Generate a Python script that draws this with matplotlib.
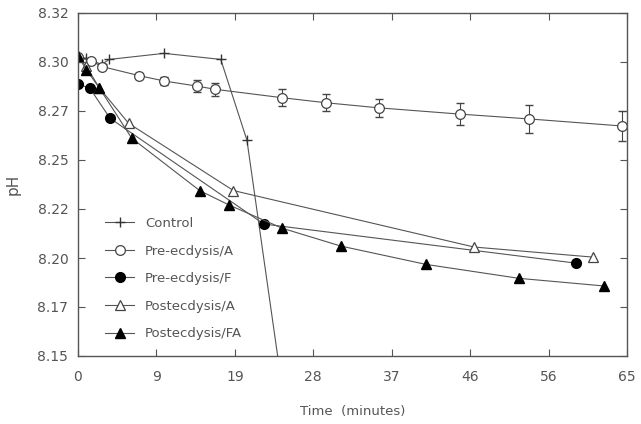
import matplotlib
matplotlib.use("Agg")
import matplotlib.pyplot as plt
import numpy as np

# Data
ctrl_t = [0, 1.0, 2.8, 3.7, 10.2, 16.9, 20.0, 25.0]
ctrl_ph = [8.2985, 8.2975, 8.2945, 8.297, 8.300, 8.297, 8.257, 8.11]

preA_t = [0, 1.5, 2.9, 7.2, 10.2, 14.05, 16.2, 24.2, 29.4, 35.6, 45.2, 53.4, 64.4]
preA_ph = [8.298, 8.2964, 8.2934, 8.289, 8.2863, 8.2838, 8.2822, 8.278, 8.2755, 8.273, 8.2699, 8.2675, 8.264]
preA_err = [0, 0, 0.0012, 0.0015, 0.002, 0.0028, 0.0031, 0.0043, 0.0043, 0.0045, 0.0055, 0.007, 0.0074]

preF_t = [0, 1.4, 3.8, 22.0, 59.0]
preF_ph = [8.2848, 8.2827, 8.2678, 8.2154, 8.196]

postA_t = [0, 1.0, 2.5, 6.0, 18.4, 46.9, 61.0]
postA_ph = [8.298, 8.2935, 8.283, 8.2653, 8.232, 8.204, 8.199]

postFA_t = [0, 1.0, 2.5, 6.35, 14.4, 17.9, 24.2, 31.1, 41.2, 52.2, 62.3]
postFA_ph = [8.2985, 8.2918, 8.283, 8.258, 8.232, 8.2248, 8.2133, 8.2045, 8.1954, 8.1885, 8.1847]

xticks = list(np.linspace(0, 65, 8))
xticklabels = ["0", "9", "19", "28", "37", "46", "56", "65"]
yticks = list(np.linspace(8.15, 8.32, 8))
yticklabels = ["8.15", "8.17", "8.20", "8.22", "8.25", "8.27", "8.30", "8.32"]

txt = "#555555"
lc = "#555555"
plt.rcParams['font.family'] = ['DejaVu Sans']

fig = plt.figure(figsize=(6.41, 4.24), dpi=100)
ax = fig.add_axes([78/641, 68/424, 549/641, 343/424])

lw = 0.8
h1, = ax.plot(ctrl_t, ctrl_ph, color=lc, lw=lw, marker='+', ms=7, mew=1.0, mec='#333', label='Control')
ax.errorbar(preA_t, preA_ph, yerr=preA_err, fmt='none', capsize=3, elinewidth=0.8, ecolor='#444')
h2, = ax.plot(preA_t, preA_ph, color=lc, lw=lw, marker='o', ms=7, mfc='white',
              mec='#444', mew=0.9, label='Pre-ecdysis/A')
h3, = ax.plot(preF_t, preF_ph, color=lc, lw=lw, marker='o', ms=7, mfc='black', mec='black', label='Pre-ecdysis/F')
h4, = ax.plot(postA_t, postA_ph, color=lc, lw=lw, marker='^', ms=7, mfc='white', mec='#444', mew=0.9, label='Postecdysis/A')
h5, = ax.plot(postFA_t, postFA_ph, color=lc, lw=lw, marker='^', ms=7, mfc='black', mec='black', label='Postecdysis/FA')

ax.set_xlim(0, 65)
ax.set_ylim(8.15, 8.32)
ax.set_xticks(xticks)
ax.set_xticklabels(xticklabels)
ax.set_yticks(yticks)
ax.set_yticklabels(yticklabels)
ax.tick_params(direction='in', length=5, width=0.8, color='#555', labelcolor=txt,
               labelsize=10, top=True, right=True)
ax.tick_params(axis='x', pad=10)
ax.tick_params(axis='y', pad=7)
for s in ax.spines.values():
    s.set_color('#555')
    s.set_linewidth(1.0)

ax.set_xlabel('Time  (minutes)', color=txt, fontsize=9.5, labelpad=15)
ax.set_ylabel('pH', color=txt, fontsize=11, labelpad=12)

handles = [h1, h2, h3, h4, h5]
labels = [h.get_label() for h in handles]
leg = ax.legend(handles, labels, loc='upper left', bbox_to_anchor=(0.05, 0.405), frameon=False,
                fontsize=9.5, labelspacing=1.1, handlelength=2.2, handletextpad=0.8,
                borderpad=0, borderaxespad=0)
for t in leg.get_texts():
    t.set_color(txt)

fig.savefig('out.png', dpi=100)
